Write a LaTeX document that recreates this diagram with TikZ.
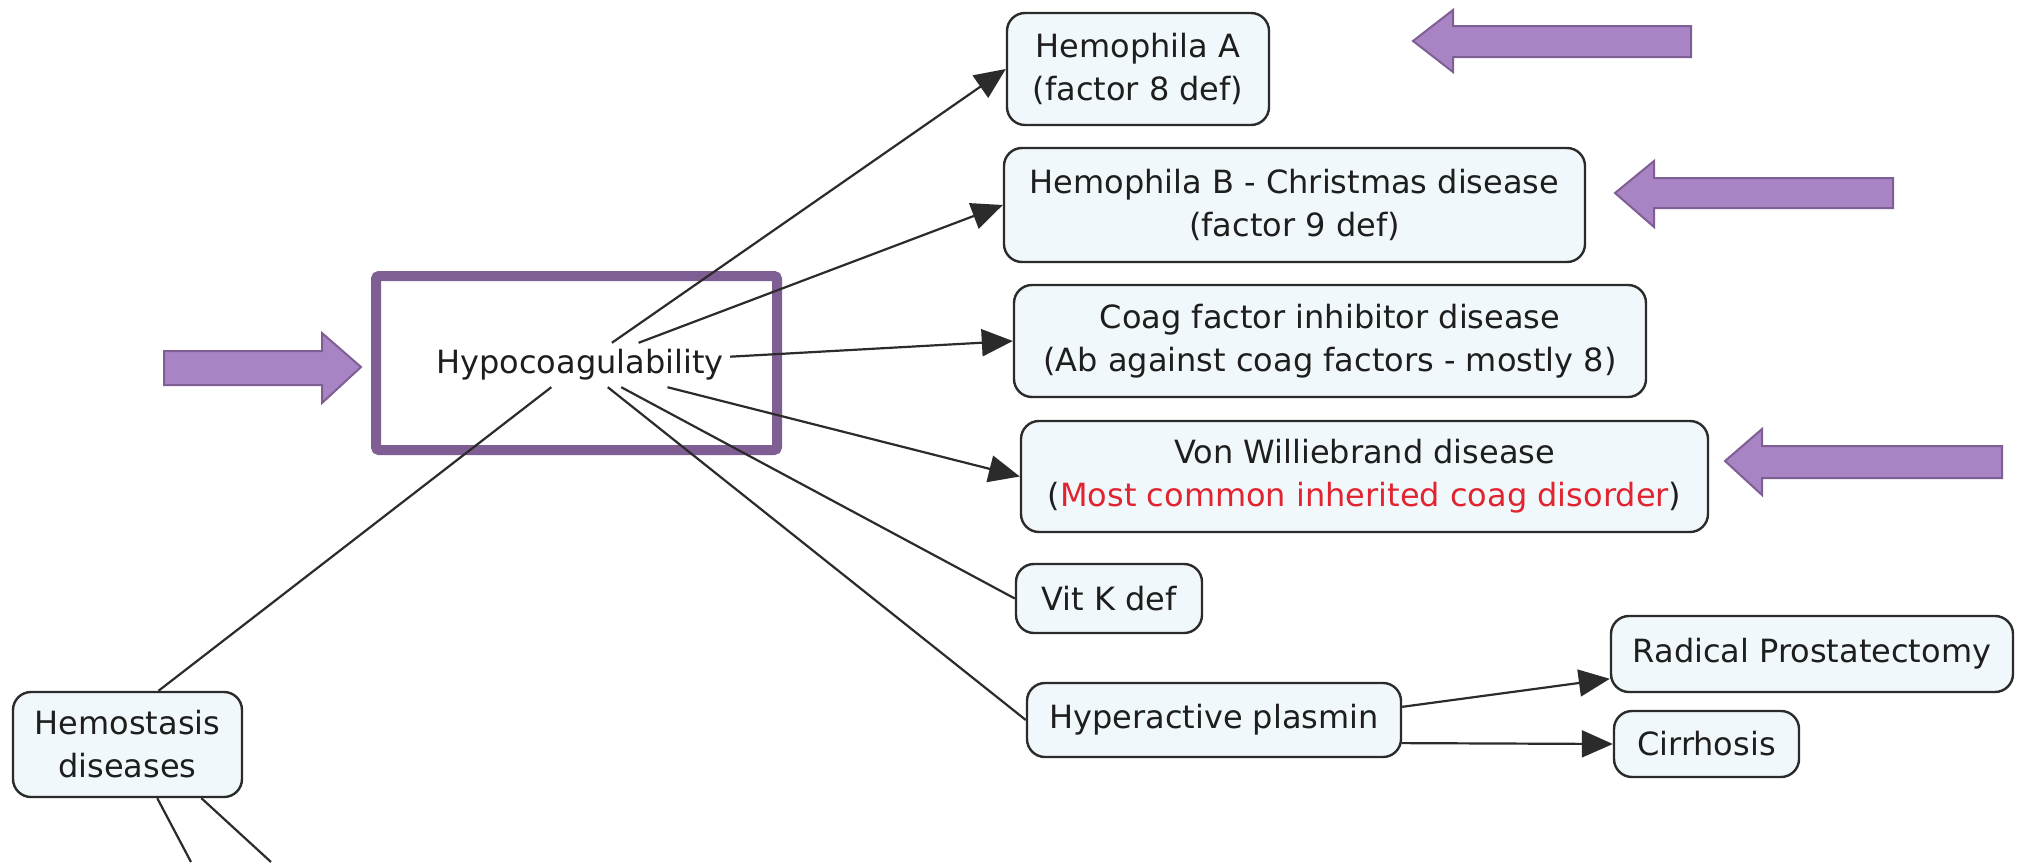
\documentclass[tikz,border=0pt]{standalone}
\usepackage{fontspec}
\usetikzlibrary{arrows.meta}
\newfontfamily\dvfont{DejaVu Sans}
\definecolor{boxfill}{HTML}{F1F8FB}
\definecolor{boxline}{HTML}{2B2B2B}
\definecolor{txt}{HTML}{1E1E1E}
\definecolor{pfill}{HTML}{A984C4}
\definecolor{pline}{HTML}{7F5F93}
\definecolor{redtxt}{HTML}{E02530}
\tikzset{
  cbox/.style={draw=boxline, line width=2.4pt, fill=boxfill, rounded corners=18pt,
    align=center, inner sep=0pt, text=txt, font=\dvfont\fontsize{32}{43}\selectfont},
  conn/.style={draw=boxline, line width=2.2pt},
  arr/.style={conn, -{Triangle[length=31pt,width=27pt]}},
  parrow/.style={fill=pfill, draw=pline, line width=2pt, line join=miter},
  hilite/.style={draw=pline, line width=10pt, rounded corners=3pt}
}
\begin{document}
\begin{tikzpicture}[x=1pt,y=-1pt]
\useasboundingbox[fill=white] (0,0) rectangle (2021,862);

% highlight rectangle
\draw[hilite] (376,276) rectangle (777,450);

% concept
\node[inner sep=0pt, minimum width=300pt, minimum height=44pt, text=txt,
      font=\dvfont\fontsize{32}{43}\selectfont] (hypo) at (580,365) {Hypocoagulability};

\node[cbox, minimum width=262pt, minimum height=112pt] (hemA) at (1138,69) {Hemophila A\\(factor 8 def)};
\node[cbox, minimum width=581pt, minimum height=114pt] (hemB) at (1294.5,205) {Hemophila B - Christmas disease\\(factor 9 def)};
\node[cbox, minimum width=632pt, minimum height=112pt] (coag) at (1330,341) {Coag factor inhibitor disease\\(Ab against coag factors - mostly 8)};
\node[cbox, minimum width=687pt, minimum height=111pt] (vwd) at (1364.5,476.5) {Von Williebrand disease\\(\textcolor{redtxt}{Most common inherited coag disorder})};
\node[cbox, minimum width=186pt, minimum height=69pt] (vitk) at (1109,598.5) {Vit K def};
\node[cbox, minimum width=374pt, minimum height=74pt] (hyper) at (1214,720) {Hyperactive plasmin};
\node[cbox, minimum width=402pt, minimum height=76pt] (rad) at (1812,654) {Radical Prostatectomy};
\node[cbox, minimum width=185pt, minimum height=66pt] (cirr) at (1706.5,744) {Cirrhosis};
\node[cbox, minimum width=229pt, minimum height=105pt] (hemo) at (127.5,744.5) {Hemostasis\\diseases};

\coordinate (off1) at (191,862);
\coordinate (off2) at (271,862);

% connectors
\draw[conn] (hemo.60) -- (hypo);
\draw[conn] (hemo.-61) -- (off1);
\draw[conn] (hemo.-36) -- (off2);
\draw[arr] (hypo) -- (hemA.west);
\draw[arr] (hypo) -- (hemB.west);
\draw[arr] (hypo) -- (coag.west);
\draw[arr] (hypo) -- (vwd.west);
\draw[conn] (hypo) -- (vitk.west);
\draw[conn] (hypo) -- (hyper.west);
\draw[arr] (hyper.4) -- (rad.187);
\draw[arr] (hyper.-7) -- (cirr.west);

% purple pointer arrows
\draw[parrow] (164,351) -- (322,351) -- (322,333) -- (361,367) -- (322,403) -- (322,385) -- (164,385) -- cycle;
\draw[parrow] (1691,26) -- (1453,26) -- (1453,10) -- (1413,41) -- (1453,72) -- (1453,57) -- (1691,57) -- cycle;
\draw[parrow] (1893,178) -- (1654,178) -- (1654,161) -- (1615,193) -- (1654,227) -- (1654,208) -- (1893,208) -- cycle;
\draw[parrow] (2002,446) -- (1762,446) -- (1762,429) -- (1725,461) -- (1762,495) -- (1762,478) -- (2002,478) -- cycle;
\end{tikzpicture}
\end{document}
